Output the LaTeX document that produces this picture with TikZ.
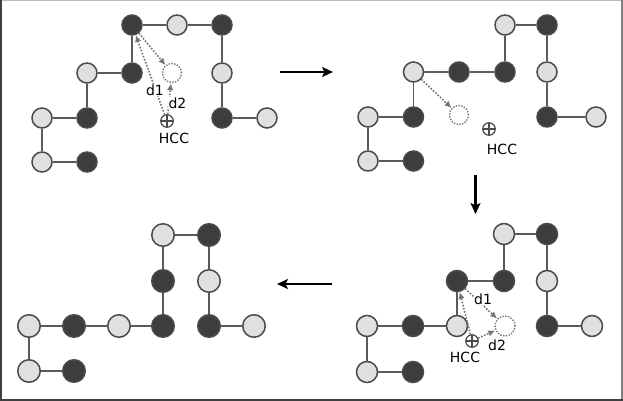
\documentclass[tikz,border=0pt]{standalone}
\usepackage{fontspec}
\setmainfont{DejaVu Sans}
\usetikzlibrary{arrows.meta}
\definecolor{darkbead}{HTML}{3D3D3D}
\definecolor{lightbead}{HTML}{E0E0E0}
\definecolor{beadline}{HTML}{4A4A4A}
\definecolor{bondc}{HTML}{5A5A5A}
\definecolor{dotc}{HTML}{767676}
\tikzset{
 bead/.style={circle, draw=beadline, line width=1.5pt, minimum size=20pt, inner sep=0pt},
 hb/.style={bead, fill=darkbead},
 pb/.style={bead, fill=lightbead},
 ghost/.style={circle, draw=dotc, line width=1.4pt, dash pattern=on 1.4pt off 1.4pt, fill=white, minimum size=19pt, inner sep=0pt},
 bondl/.style={draw=bondc, line width=1.7pt},
 dist/.style={draw=dotc, line width=1.6pt, dash pattern=on 1.6pt off 1.6pt, -{Latex[length=7pt,width=6.5pt]}},
 hcc/.style={circle, draw=beadline, line width=1.2pt, minimum size=12.5pt, inner sep=0pt,
   path picture={\draw[beadline, line width=1.2pt] (path picture bounding box.north) -- (path picture bounding box.south) (path picture bounding box.west) -- (path picture bounding box.east);}},
 txt/.style={font=\fontsize{14}{14}\selectfont, inner sep=0.5pt},
 dlab/.style={txt, fill=white},
 movearrow/.style={line width=2.2pt, -{Stealth[length=11pt,width=10pt,inset=2.5pt]}}
}
\begin{document}
\begin{tikzpicture}[x=1pt,y=-1pt]
\useasboundingbox (0,0) rectangle (623,401);
% frame
\draw[color=gray!55, line width=1pt] (0,0.5) -- (623,0.5);
\draw[color=darkgray, line width=2pt] (1,0) -- (1,401);
\draw[color=gray, line width=2pt] (622,0) -- (622,401);
\draw[color=darkgray, line width=2pt] (0,400) -- (623,400);

% ---------- panel 1 ----------
\node[hb] (a1) at (87,162) {};
\node[pb] (a2) at (42,162) {};
\node[pb] (a3) at (42,118) {};
\node[hb] (a4) at (87,118) {};
\node[pb] (a5) at (87,73) {};
\node[hb] (a6) at (132,73) {};
\node[hb] (a7) at (132,25) {};
\node[pb] (a8) at (177,25) {};
\node[hb] (a9) at (222,25) {};
\node[pb] (a10) at (222,73) {};
\node[hb] (a11) at (222,118) {};
\node[pb] (a12) at (267,118) {};
\node[ghost] (ag) at (172,73) {};
\node[hcc] (ah) at (167,121) {};
\node[txt] (aht) at (174,138) {HCC};
\draw[bondl] (a1) -- (a2) -- (a3) -- (a4) -- (a5) -- (a6) -- (a7) -- (a8) -- (a9) -- (a10) -- (a11) -- (a12);
\draw[dist] (a7) -- (ag);
\draw[dist] (ah) -- (a7);
\draw[dist] (ah) -- (ag);
\node[dlab] (ad1) at (155,90) {d1};
\node[dlab] (ad2) at (177.5,103) {d2};

% ---------- panel 2 ----------
\node[hb] (b1) at (413.5,161) {};
\node[pb] (b2) at (368,161) {};
\node[pb] (b3) at (368,117) {};
\node[hb] (b4) at (413.5,117) {};
\node[pb] (b5) at (413.5,72) {};
\node[hb] (b6) at (459,72) {};
\node[hb] (b7) at (505,72) {};
\node[pb] (b8) at (505,25) {};
\node[hb] (b9) at (547,25) {};
\node[pb] (b10) at (547,72) {};
\node[hb] (b11) at (547,117) {};
\node[pb] (b12) at (596,117) {};
\node[ghost] (bg) at (459,115) {};
\node[hcc] (bh) at (489,129) {};
\node[txt] (bht) at (502,149) {HCC};
\draw[bondl] (b1) -- (b2) -- (b3) -- (b4) -- (b5) -- (b6) -- (b7) -- (b8) -- (b9) -- (b10) -- (b11) -- (b12);
\draw[dist] (b5) -- (bg);

% ---------- panel 3 ----------
\begin{scope}[bead/.append style={minimum size=21pt}]
\node[hb] (c1) at (413,372) {};
\node[pb] (c2) at (367,372) {};
\node[pb] (c3) at (367,326) {};
\node[hb] (c4) at (413,326) {};
\node[pb] (c5) at (457,326) {};
\node[hb] (c6) at (457,281) {};
\node[hb] (c7) at (504,281) {};
\node[pb] (c8) at (504,234) {};
\node[hb] (c9) at (547,234) {};
\node[pb] (c10) at (547,281) {};
\node[hb] (c11) at (547,326) {};
\node[pb] (c12) at (592,326) {};
\end{scope}
\node[ghost, minimum size=20pt] (cg) at (505,326) {};
\node[hcc] (ch) at (472,341) {};
\node[txt] (cht) at (465,357) {HCC};
\draw[bondl] (c1) -- (c2) -- (c3) -- (c4) -- (c5) -- (c6) -- (c7) -- (c8) -- (c9) -- (c10) -- (c11) -- (c12);
\draw[dist] (c6) -- (cg);
\draw[dist] (ch) -- (c6);
\draw[dist] (ch) -- (cg);
\node[dlab] (cd1) at (483,299) {d1};
\node[txt] (cd2) at (497,345) {d2};

% ---------- panel 4 ----------
\begin{scope}[bead/.append style={minimum size=22.5pt}]
\node[hb] (e1) at (74,371) {};
\node[pb] (e2) at (29,371) {};
\node[pb] (e3) at (29,326) {};
\node[hb] (e4) at (74,326) {};
\node[pb] (e5) at (119,326) {};
\node[hb] (e6) at (163,326) {};
\node[hb] (e7) at (163,281) {};
\node[pb] (e8) at (163,235) {};
\node[hb] (e9) at (209,235) {};
\node[pb] (e10) at (209,281) {};
\node[hb] (e11) at (209,326) {};
\node[pb] (e12) at (254,326) {};
\end{scope}
\draw[bondl] (e1) -- (e2) -- (e3) -- (e4) -- (e5) -- (e6) -- (e7) -- (e8) -- (e9) -- (e10) -- (e11) -- (e12);

% ---------- step arrows ----------
\coordinate (r1) at (280,72);
\coordinate (r2) at (333,72);
\coordinate (d1s) at (475.5,175);
\coordinate (d1e) at (475.5,214);
\coordinate (l1) at (332,284);
\coordinate (l2) at (277,284);
\draw[movearrow] (r1) -- (r2);
\draw[movearrow] (d1s) -- (d1e);
\draw[movearrow] (l1) -- (l2);
\end{tikzpicture}
\end{document}
